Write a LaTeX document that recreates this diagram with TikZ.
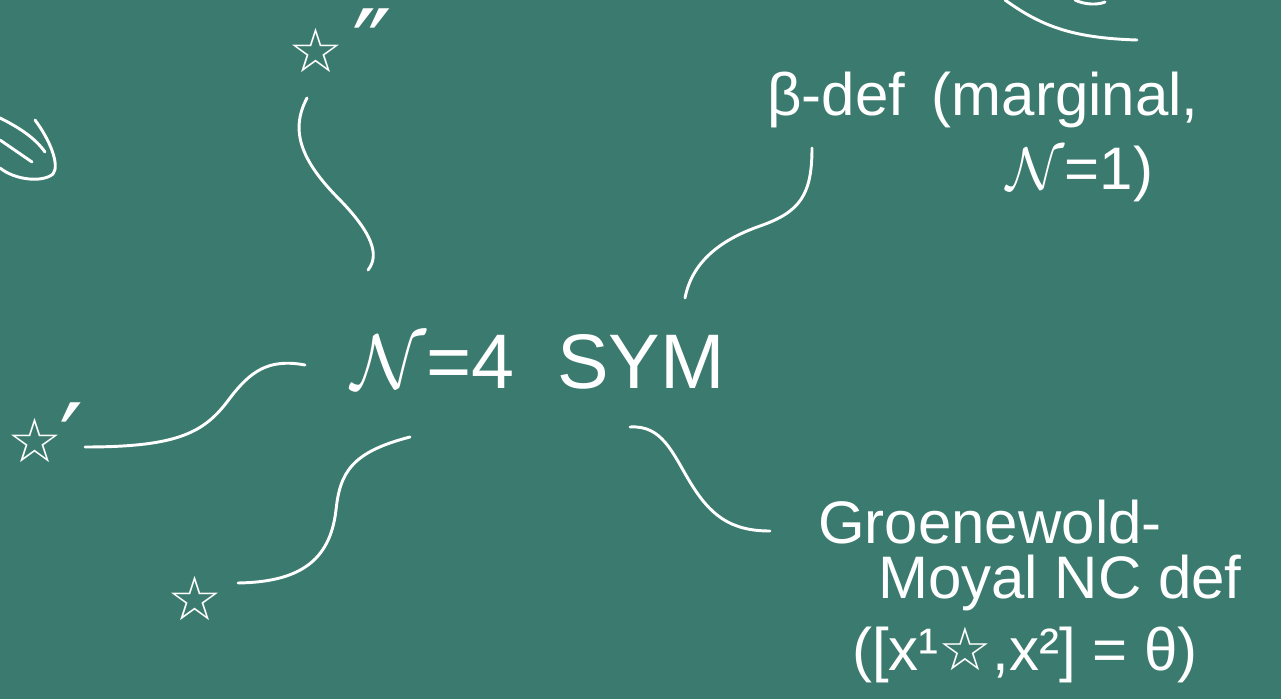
\RequirePackage{fix-cm}
\documentclass[tikz,border=0pt]{standalone}
\usepackage{fontspec}
\setmainfont{Liberation Sans}
\newfontfamily\symfont{DejaVu Sans}
\definecolor{board}{RGB}{59,122,110}
\tikzset{
  chalk/.style={draw=white, line width=2.2pt, line cap=round, line join=round},
  lbl/.style={text=white, inner sep=0pt, font=\fontsize{45}{49}\selectfont},
  big/.style={text=white, inner sep=0pt, font=\fontsize{58}{62}\selectfont},
  starl/.style={text=white, inner sep=0pt, font=\symfont\bfseries\fontsize{46}{50}\selectfont},
  primel/.style={text=white, inner sep=0pt, font=\symfont\fontsize{80}{84}\selectfont}
}
\begin{document}
\begin{tikzpicture}[x=0.75pt,y=-0.75pt]
\fill[board] (0,0) rectangle (1281,699);
\useasboundingbox (0,0) rectangle (1281,699);

% nodes
\node[big] (sym) at (538,362) {$\mathcal{N}$=4 \ SYM};
\node[lbl] (bdef1) at (983,100) {β-def \,(marginal,};
\node[lbl] (bdef2) at (1080,174) {$\mathcal{N}$=1)};
\node[lbl] (gm1) at (990,522) {Groenewold-};
\node[lbl] (gm2) at (1060,583) {Moyal NC def};
\node[lbl] (gm3) at (1025,655) {([x¹{\symfont☆},x²] = θ)};
\node[starl] (s2) at (316,50) {☆};
\node[primel] (s2p) at (372,48) {″};
\node[starl] (s1) at (35,440) {☆};
\node[primel] (s1p) at (72,442) {′};
\node[starl] (s0) at (195,598) {☆};

% connector end points
\coordinate (a1) at (307,98);
\coordinate (a2) at (368,270);
\coordinate (b1) at (812,148);
\coordinate (b2) at (685,298);
\coordinate (c1) at (305,365);
\coordinate (c2) at (85,447);
\coordinate (d1) at (410,437);
\coordinate (d2) at (238,583);
\coordinate (e1) at (630,427);
\coordinate (e2) at (770,531);

% connectors
\path[chalk] (a1) .. controls (290,130) and (300,160) .. (340,200)
   .. controls (372,233) and (380,255) .. (a2);
\path[chalk] (b1) .. controls (812,195) and (800,212) .. (760,226)
   .. controls (720,240) and (692,262) .. (b2);
\path[chalk] (c1) .. controls (268,358) and (250,372) .. (230,398)
   .. controls (205,432) and (180,447) .. (c2);
\path[chalk] (d1) .. controls (352,452) and (340,472) .. (336,510)
   .. controls (330,562) and (298,582) .. (d2);
\path[chalk] (e1) .. controls (662,425) and (672,452) .. (690,482)
   .. controls (710,515) and (730,531) .. (e2);

% cut-off fragments at the edges
\path[chalk] (0,118) .. controls (20,128) and (35,138) .. (45,152);
\path[chalk] (35,120) .. controls (50,140) and (60,165) .. (53,174)
   .. controls (42,183) and (15,180) .. (0,168);
\path[chalk] (0,140) -- (32,162);
\path[chalk] (1005,0) .. controls (1040,25) and (1070,38) .. (1137,40);
\path[chalk] (1075,0) .. controls (1085,5) and (1098,5) .. (1105,2);
\end{tikzpicture}
\end{document}
